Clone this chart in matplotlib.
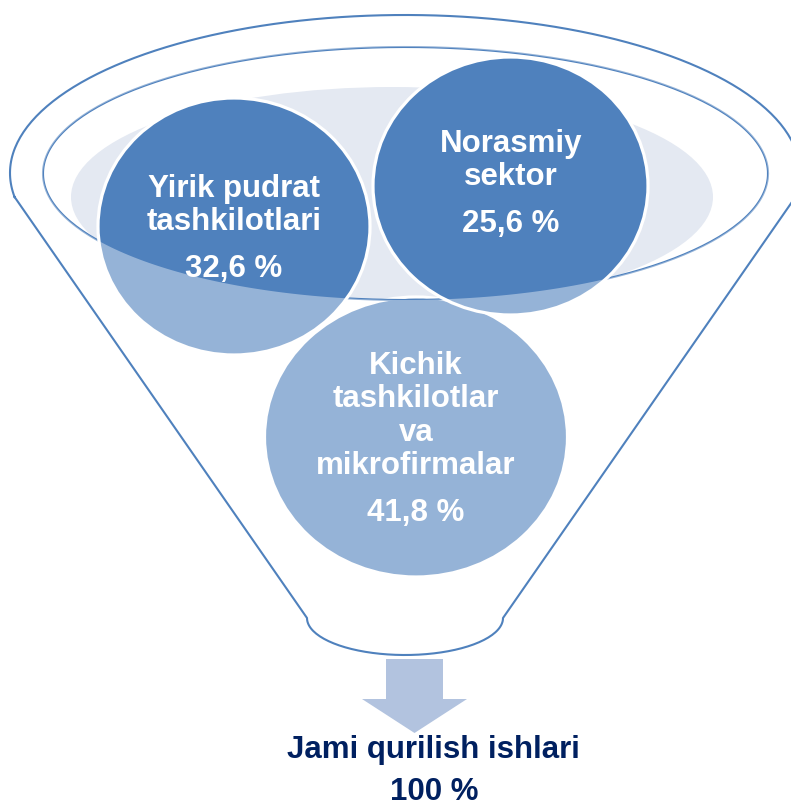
import numpy as np
import matplotlib.pyplot as plt
from matplotlib.patches import Ellipse, PathPatch, Polygon
from matplotlib.path import Path

plt.rcParams['font.family'] = ['Liberation Sans', 'DejaVu Sans']

# data
segments = ["Yirik pudrat\ntashkilotlari", "Norasmiy\nsektor",
            "Kichik\ntashkilotlar\nva\nmikrofirmalar"]
shares = [32.6, 25.6, 41.8]
total_label = "Jami qurilish ishlari"
total_share = 100

blue = '#4F81BD'
light_bg = '#E4E9F2'
arrow_col = '#B2C3DF'
navy = '#002060'

fig = plt.figure(figsize=(7.91, 8.08), dpi=100)
ax = fig.add_axes([0, 0, 1, 1])
ax.set_xlim(0, 791)
ax.set_ylim(808, 0)
ax.axis('off')

# funnel outline: top arc of outer ellipse, two sides, rounded bottom
cx, cy, a, b = 405, 173, 395, 158
t0 = np.arcsin((197 - cy) / b)
t = np.linspace(np.pi + t0, -t0, 200)
top = np.column_stack([cx + a * np.cos(t), cy - b * np.sin(t)])
tb = np.linspace(0, np.pi, 80)
bottom = np.column_stack([405 + 98 * np.cos(tb), 618 + 37 * np.sin(tb)])
outline = np.vstack([top, bottom, top[:1]])

# inner rim ellipse
icx, icy, ia, ib = 405.5, 173.5, 362.5, 126.5
ti = np.linspace(0, 2 * np.pi, 300)
inner = np.column_stack([icx + ia * np.cos(ti), icy + ib * np.sin(ti)])


def area(p):
    return 0.5 * np.sum(p[:-1, 0] * p[1:, 1] - p[1:, 0] * p[:-1, 1])


if np.sign(area(outline)) == np.sign(area(inner)):
    inner = inner[::-1]

inner_path = Path(inner)

# light background ellipse inside the rim
bg = Ellipse((392, 197), 642, 220, facecolor=light_bg, edgecolor='none', zorder=1)
ax.add_patch(bg)
bg.set_clip_path(PathPatch(inner_path, transform=ax.transData))

# circles
centers = [(234, 226.5), (510.5, 186), (416, 437)]
sizes = [(272, 257), (275, 258), (303, 280)]
zs = [4, 4, 2]
for (x, y), (w, h), z in zip(centers, sizes, zs):
    ax.add_patch(Ellipse((x, y), w, h, facecolor=blue, edgecolor='white',
                         lw=2.3, zorder=z))

# rim line (hidden behind upper circles)
ax.plot(inner[:, 0], inner[:, 1], color=blue, lw=1.5, zorder=3)

# translucent funnel front
front = Path.make_compound_path(Path(outline), inner_path)
ax.add_patch(PathPatch(front, facecolor='white', alpha=0.4, edgecolor='none', zorder=5))

# funnel outline
ax.plot(outline[:, 0], outline[:, 1], color=blue, lw=1.5, zorder=6)

# arrow
ax.add_patch(Polygon([(386, 659), (443, 659), (443, 699), (467, 699), (414.5, 733),
                      (362, 699), (386, 699)], closed=True, facecolor=arrow_col,
                     edgecolor='none', zorder=6))

# labels in circles
fs = 22.5
baselines = [[197, 230], [152, 185], [374, 407.3, 440.6, 474]]
pct_base = [277, 232, 521]
text_x = [234, 511, 416]
for name, val, bl, pb, tx in zip(segments, shares, baselines, pct_base, text_x):
    for line, yb in zip(name.split('\n'), bl):
        ax.text(tx, yb, line, color='white', fontsize=fs, fontweight='bold',
                ha='center', va='baseline', zorder=10)
    ax.text(tx, pb, f"{val:.1f} %".replace('.', ','), color='white', fontsize=fs,
            fontweight='bold', ha='center', va='baseline', zorder=10)

ax.text(433.5, 758, total_label, color=navy, fontsize=fs, fontweight='bold',
        ha='center', va='baseline', zorder=10)
ax.text(434, 800, f"{total_share} %", color=navy, fontsize=fs, fontweight='bold',
        ha='center', va='baseline', zorder=10)

fig.savefig('out.png', dpi=100)
